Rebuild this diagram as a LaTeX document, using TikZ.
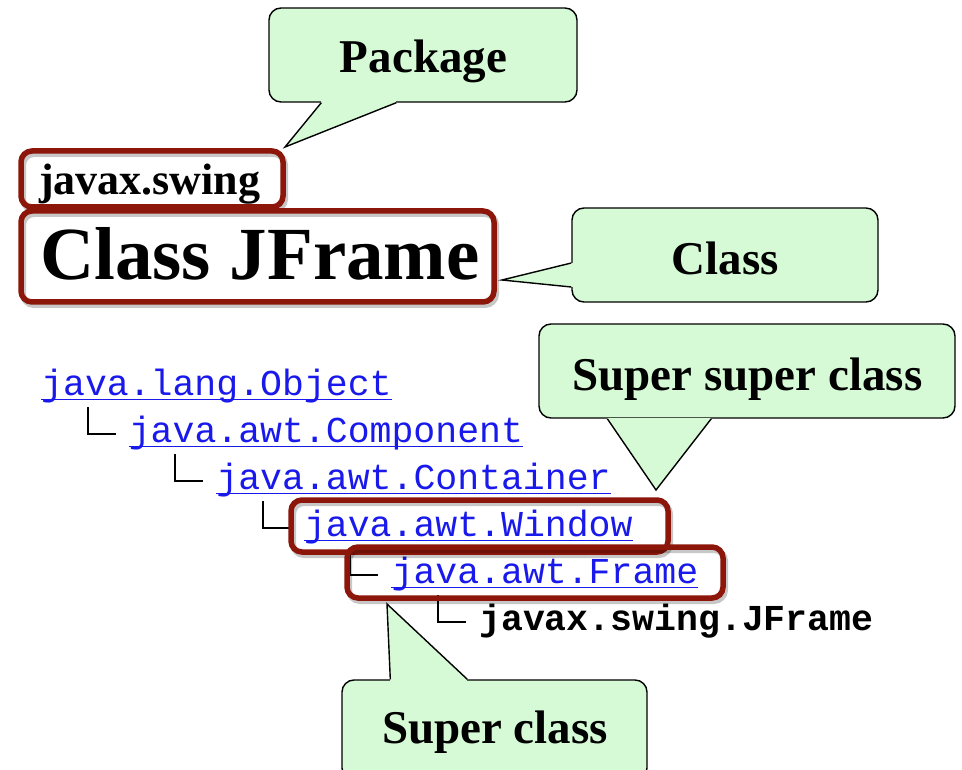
\documentclass[tikz,border=0pt]{standalone}
\usepackage{fontspec}
\setmainfont{Liberation Serif}
\setmonofont{Liberation Mono}
\usetikzlibrary{calc}

\definecolor{tipgreen}{RGB}{213,250,213}
\definecolor{boxred}{RGB}{140,22,10}
\definecolor{linkblue}{RGB}{25,25,235}

% tail of a speech bubble: base point, tip, base point
\newcommand{\bubbletail}[3]{%
  \fill[tipgreen] (#1) -- (#2) -- (#3) -- cycle;
  \draw[tipgreen, line width=2.4pt] (#1) -- (#3);
  \draw[line width=1.4pt, line join=miter] (#1) -- (#2) -- (#3);
}

\begin{document}
\begin{tikzpicture}[x=1pt,y=-1pt,
  bubble/.style={draw=black, line width=1.4pt, fill=tipgreen, rounded corners=12pt, inner sep=0pt},
  bubbletext/.style={anchor=base, inner sep=0pt, font=\fontsize{47}{56}\selectfont\bfseries},
  hl/.style={draw=boxred, line width=5.5pt, rounded corners=11pt, inner sep=0pt},
  hlshadow/.style={draw=black, draw opacity=0.22, line width=6pt, rounded corners=11pt, inner sep=0pt},
  link/.style={anchor=base west, inner sep=0pt, text=linkblue, font=\fontsize{36.5}{40}\selectfont\ttfamily},
  underl/.style={draw=linkblue, line width=1.6pt},
  elbow/.style={draw=black, line width=1.8pt},
]
\useasboundingbox (0,0) rectangle (962,770);
\clip (0,0) rectangle (962,770);

% page heading
\node[anchor=base west, inner sep=0pt, font=\fontsize{44}{50}\selectfont\bfseries] (pkgname) at (39,195) {javax.swing};
\node[anchor=base west, inner sep=0pt, font=\fontsize{75}{80}\selectfont\bfseries] (title) at (40,280) {Class JFrame};

% inheritance tree
\node[link] (h0) at (41,395) {java.lang.Object};
\node[link] (h1) at (128.6,442) {java.awt.Component};
\node[link] (h2) at (216.2,489) {java.awt.Container};
\node[link] (h3) at (303.8,536) {java.awt.Window};
\node[link] (h4) at (391.4,583) {java.awt.Frame};
\node[anchor=base west, inner sep=0pt, font=\fontsize{36.5}{40}\selectfont\ttfamily\bfseries] (h5) at (479,630) {javax.swing.JFrame};

\foreach \n in {h0,h1,h2,h3,h4}
  \draw[underl] ($(\n.base west)+(0,4.5)$) -- ($(\n.base east)+(0,4.5)$);

\foreach \a/\b in {h0/h1,h1/h2,h2/h3,h3/h4,h4/h5}
  \draw[elbow] ($(\a.base west)+(46.6,12)$) |- ($(\b.base west)+(-13,-8)$);

% speech bubbles
\node[bubble, minimum width=308, minimum height=94] (cPkg) at (423,55) {};
\coordinate (tipPkg) at (285,147);
\bubbletail{$(cPkg.south west)+(53,0)$}{tipPkg}{$(cPkg.south west)+(128,0)$}
\node[bubbletext] (lPkg) at (423.5,73) {Package};

\node[bubble, minimum width=306, minimum height=94] (cCls) at (725,255) {};
\coordinate (tipCls) at (502,280);
\bubbletail{$(cCls.west)+(0,8)$}{tipCls}{$(cCls.west)+(0,32)$}
\node[bubbletext] (lCls) at (725.5,275) {Class};

\node[bubble, minimum width=416, minimum height=94] (cSup2) at (747,371) {};
\coordinate (tipSup2) at (656,490);
\bubbletail{$(cSup2.south west)+(69,0)$}{tipSup2}{$(cSup2.south west)+(173,0)$}
\node[bubbletext] (lSup2) at (747.5,390) {Super super class};

\node[bubble, minimum width=305, minimum height=100] (cSup) at (494.5,730) {};
\coordinate (tipSup) at (387,604);
\bubbletail{$(cSup.north west)+(49,0)$}{tipSup}{$(cSup.north west)+(126,0)$}
\node[bubbletext] (lSup) at (495,743) {Super class};

% highlight frames with soft shadow
\node[hlshadow, minimum width=262, minimum height=56] at (154,182) {};
\node[hl, minimum width=262, minimum height=56] (bPkg) at (152,179) {};
\node[hlshadow, minimum width=473, minimum height=91] at (259.5,259.5) {};
\node[hl, minimum width=473, minimum height=91] (bTitle) at (257.5,256.5) {};
\node[hlshadow, minimum width=377, minimum height=52] at (481.5,529) {};
\node[hl, minimum width=377, minimum height=52] (bWin) at (479.5,526) {};
\node[hlshadow, minimum width=376, minimum height=51] at (537,575.5) {};
\node[hl, minimum width=376, minimum height=51] (bFrm) at (535,572.5) {};
\end{tikzpicture}
\end{document}
